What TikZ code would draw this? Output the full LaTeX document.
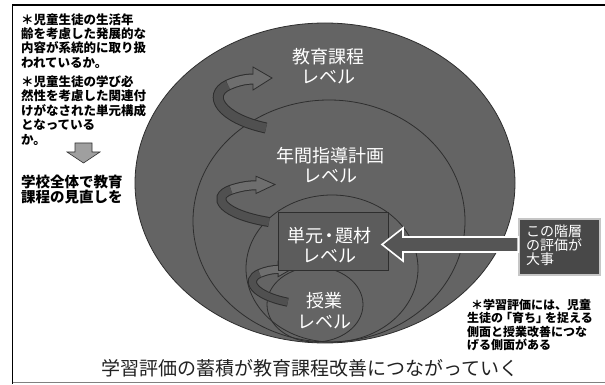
\documentclass[tikz,border=0pt]{standalone}
\usepackage{fontspec}
\newfontfamily\jp{Noto Sans CJK JP}
\usetikzlibrary{shapes.geometric,calc}
\definecolor{bgdark}{HTML}{646464}
\definecolor{edge}{HTML}{2E2E2E}
\definecolor{ribbon}{HTML}{6E6E6E}
\definecolor{ribbonfront}{HTML}{505050}
\definecolor{boxfill}{HTML}{484848}
\definecolor{titlecol}{HTML}{222222}
\tikzset{
  ell/.style={ellipse, draw=edge, line width=0.8pt, inner sep=0pt},
  lvl/.style={text=white, font=\jp\fontsize{18}{20.5}\selectfont, align=center, inner sep=0pt},
  note/.style={text=black, font=\jp\bfseries\fontsize{12.5}{14.2}\selectfont, align=left, inner sep=0pt, anchor=north west},
  bignote/.style={text=black, font=\jp\bfseries\fontsize{14.5}{15}\selectfont, align=left, inner sep=0pt, anchor=north west},
  rnote/.style={text=black, font=\jp\bfseries\fontsize{12}{13.5}\selectfont, align=left, inner sep=0pt, anchor=north west},
  pics/spiral/.style={code={
    \draw[line width=#1pt+2pt, edge] (51,60) .. controls (5,50) and (-8,27) .. (13,17) .. controls (22,13) and (30,11) .. (39,11);
    \filldraw[fill=ribbon, draw=edge, line width=0.8pt] (38,-1) -- (57,10) -- (38,22) -- cycle;
    \draw[line width=#1pt, ribbon] (13,17) .. controls (22,13) and (30,11) .. (39.5,11);
    \draw[line width=#1pt, ribbonfront] (51,60) .. controls (5,50) and (-8,27) .. (13,17);
  }}
}
\begin{document}
\begin{tikzpicture}[x=1pt,y=-1pt]
\useasboundingbox (0,0) rectangle (605,385);
\fill[white] (0,0) rectangle (605,385);
% frame
\draw[line width=1.6pt, black] (605,5) -- (12.5,5) -- (12.5,384);
\draw[line width=0.9pt, gray] (12.5,382.5) -- (605,382.5);

% levels
\node[ell, fill=bgdark, minimum width=380pt, minimum height=320pt] (curric) at (325,183) {};
\node[ell, minimum width=272pt, minimum height=242pt] (annual) at (329,221) {};
\node[ell, minimum width=172pt, minimum height=147pt] (unitell) at (332,268.5) {};
\node[ell, minimum width=96pt, minimum height=75pt] (lesson) at (315,304.5) {};

% spiral arrows
\pic at (215,68) {spiral=9};
\pic[yscale=0.75] at (218,177) {spiral=8};
\pic[xscale=0.74, yscale=0.67] at (250,262) {spiral=7};

% unit rectangle
\node[draw=edge, line width=0.9pt, fill=bgdark!92!black, minimum width=110pt, minimum height=58pt, inner sep=0pt] (unit) at (333,241) {};

% level labels
\node[lvl] (lcurric) at (328,66) {教育課程\\レベル};
\node[lvl] (lannual) at (330,165) {年間指導計画\\レベル};
\node[lvl] (lunit) at (329,245) {単元{\kern-3pt}・{\kern-3pt}題材\\レベル};
\node[lvl] (llesson) at (324,310.5) {授業\\レベル};

% right box
\node[draw=gray!45, line width=1.5pt, fill=boxfill, minimum width=81pt, minimum height=56pt, inner sep=0pt] (hbox) at (559.5,247) {};
\node[text=white, font=\jp\fontsize{14}{14}\selectfont, align=left, inner sep=0pt, anchor=north west] (htext) at (526,225) {この階層\\の評価が\\大事};

% hollow arrow from box to unit
\coordinate (tip) at (382,244.5);
\filldraw[fill=bgdark!85!black, draw=white, line width=1.6pt] let \p1=(tip), \p2=(hbox.west) in
  (\p1) -- (\x1+21pt,\y1+16.5pt) -- (\x1+21pt,\y1+7.5pt) -- (\x2,\y1+7.5pt)
  -- (\x2,\y1-7.5pt) -- (\x1+21pt,\y1-7.5pt) -- (\x1+21pt,\y1-16.5pt) -- cycle;

% left notes
\node[note] (n1) at (21,13.5) {＊児童生徒の生活年\\齢を考慮した発展的な\\内容が系統的に取り扱\\われているか。};
\node[note, font=\jp\bfseries\fontsize{12.5}{14.5}\selectfont] (n2) at (21,75.5) {＊児童生徒の学び必\\然性を考慮した関連付\\けがなされた単元構成\\となっている\\か。};
\coordinate (da) at (83.5,143);
\filldraw[fill=gray!75, draw=gray!40!black, line width=0.6pt] (da) ++(-8.5,0) -- ++(17,0) -- ++(0,9) -- ++(8,0) -- ++(-16.5,11) -- ++(-16.5,-11) -- ++(8,0) -- cycle;
\node[bignote] (n3) at (21,174.5) {学校全体で教育\\課程の見直しを};

% right note
\node[rnote] (n4) at (467,298.5) {\hspace{4pt}＊学習評価には、児童\\生徒の{\kern-3pt}「育ち」{\kern-3pt}を捉える\\側面と授業改善につな\\げる側面がある};

% title
\node[text=titlecol, font=\jp\fontsize{19}{19}\selectfont, inner sep=0pt] (title) at (310,368) {学習評価の蓄積が教育課程改善につながっていく};
\end{tikzpicture}
\end{document}
